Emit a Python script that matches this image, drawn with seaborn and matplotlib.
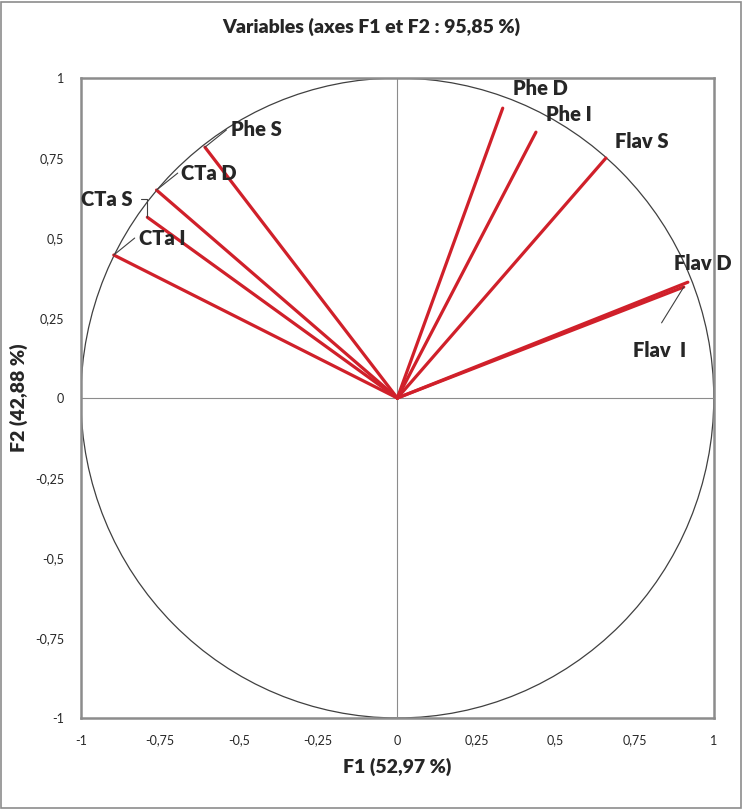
import numpy as np
import pandas as pd
import seaborn as sns
import matplotlib.pyplot as plt
from matplotlib.patches import Circle, Rectangle

# loadings on F1 / F2
variables = ["Phe D", "Phe I", "Flav S", "Flav D", "Flav  I",
             "Phe S", "CTa D", "CTa S", "CTa I"]
f1 = [0.333, 0.438, 0.659, 0.918, 0.905, -0.608, -0.761, -0.790, -0.896]
f2 = [0.906, 0.831, 0.750, 0.362, 0.347, 0.784, 0.650, 0.565, 0.447]

ticks = [-1, -0.75, -0.5, -0.25, 0, 0.25, 0.5, 0.75, 1]
tick_labels = ["-1", "-0,75", "-0,5", "-0,25", "0", "0,25", "0,5", "0,75", "1"]

sns.set_style("white")
plt.rcParams["font.family"] = ["Lato", "DejaVu Sans"]

# one segment per variable, origin -> loading
rows = []
for v, x, y in zip(variables, f1, f2):
    rows.append({"var": v, "F1": 0.0, "F2": 0.0, "step": 0})
    rows.append({"var": v, "F1": x, "F2": y, "step": 1})
df = pd.DataFrame(rows)

fig = plt.figure(figsize=(7.42, 8.10), dpi=100)
ax = fig.add_axes([0.109, 0.1136, 0.853, 0.790])

# correlation circle and axes cross
ax.add_patch(Circle((0, 0), 1, fill=False, edgecolor="#404040", lw=0.9, zorder=1))
ax.axhline(0, color="#8c8c8c", lw=0.8, zorder=1)
ax.axvline(0, color="#8c8c8c", lw=0.8, zorder=1)

sns.lineplot(data=df, x="F1", y="F2", units="var", estimator=None, sort=False,
             color="#d0202a", lw=2.3, ax=ax, zorder=3)

# label placement (data coords) and leader lines
label_pos = {
    "Phe D": (0.365, 0.966, None),
    "Phe I": (0.469, 0.887, None),
    "Flav S": (0.687, 0.803, None),
    "Flav D": (0.875, 0.422, None),
    "Flav  I": (0.745, 0.150, (0.835, 0.235)),
    "Phe S": (-0.526, 0.838, (-0.540, 0.838)),
    "CTa D": (-0.684, 0.703, (-0.694, 0.703)),
    "CTa S": (-1.000, 0.622, (-0.810, 0.622)),
    "CTa I": (-0.817, 0.500, (-0.830, 0.500)),
}
for v, x, y in zip(variables, f1, f2):
    lx, ly, lead = label_pos[v]
    ax.text(lx, ly, v, fontsize=14.5, fontweight="heavy", ha="left", va="center",
            zorder=5)
    if lead is not None:
        if v == "CTa S":
            ax.plot([lead[0], -0.79, x], [lead[1], lead[1], y],
                    color="#404040", lw=0.8, zorder=4)
        else:
            ax.plot([lead[0], x], [lead[1], y], color="#404040", lw=0.8, zorder=4)

ax.set_xlim(-1, 1)
ax.set_ylim(-1, 1)
ax.set_xticks(ticks)
ax.set_xticklabels(tick_labels)
ax.set_yticks(ticks)
ax.set_yticklabels(tick_labels)
ax.tick_params(axis="both", length=0, labelsize=9, pad=12)
for s in ax.spines.values():
    s.set_color("#8c8c8c")
    s.set_linewidth(1.8)

ax.set_xlabel("F1 (52,97 %)", fontsize=14, fontweight="heavy", labelpad=8)
ax.set_ylabel("F2 (42,88 %)", fontsize=14, fontweight="heavy")
ax.yaxis.set_label_coords(-0.083, 0.5)
fig.suptitle("Variables (axes F1 et F2 : 95,85 %)", fontsize=14,
             fontweight="heavy", y=0.967, va="center")

fig.patches.append(Rectangle((0.002, 0.002), 0.996, 0.996, transform=fig.transFigure,
                             fill=False, edgecolor="#8c8c8c", lw=1.2))

fig.savefig("out.png", dpi=100)
